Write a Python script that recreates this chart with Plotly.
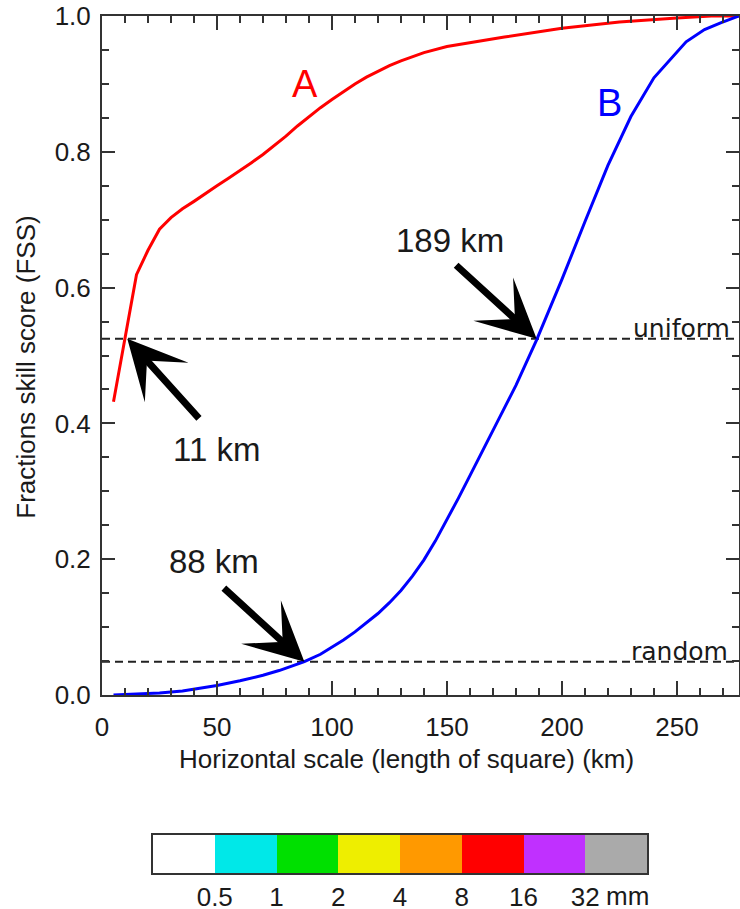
import plotly.graph_objects as go

# ---------------- data ----------------
scale_km_A = [5, 10, 15, 20, 25, 30, 35, 40, 45, 50, 55, 60, 65, 70, 75, 80, 85,
              90, 95, 100, 105, 110, 115, 120, 125, 130, 140, 150, 160, 175, 200,
              225, 250, 265, 277]
fss_A = [0.432, 0.524, 0.619, 0.655, 0.686, 0.703, 0.716, 0.727, 0.739, 0.750,
         0.761, 0.772, 0.784, 0.796, 0.809, 0.823, 0.838, 0.852, 0.865, 0.877,
         0.889, 0.900, 0.910, 0.919, 0.927, 0.934, 0.946, 0.955, 0.961, 0.969,
         0.982, 0.991, 0.997, 1.0, 1.0]

scale_km_B = [5, 15, 25, 35, 45, 50, 60, 70, 77, 88, 95, 100, 105, 110, 115, 120,
              125, 130, 135, 140, 145, 150, 155, 160, 170, 180, 189, 200, 210, 220,
              230, 240, 254, 262, 269, 277]
fss_B = [0.000, 0.001, 0.003, 0.006, 0.011, 0.014, 0.021, 0.029, 0.036, 0.049,
         0.060, 0.070, 0.081, 0.093, 0.106, 0.120, 0.136, 0.154, 0.175, 0.199,
         0.227, 0.258, 0.290, 0.323, 0.389, 0.456, 0.523, 0.612, 0.697, 0.780,
         0.852, 0.909, 0.962, 0.980, 0.990, 1.0]

fss_random = 0.049
fss_uniform = 0.5245
x_max = 277

arrow_points = [(11, 0.5245, "11 km"), (189, 0.5245, "189 km"), (88, 0.049, "88 km")]

cb_labels = ["0.5", "1", "2", "4", "8", "16", "32"]
cb_colors = ["#FFFFFF", "#00E8E8", "#00E000", "#EEEE00", "#FF9900",
             "#FF0000", "#C030FF", "#AAAAAA"]

FONT = "Liberation Sans, Arial, Helvetica, sans-serif"
AX = "#333333"
TXT = "#1a1a1a"

fig = go.Figure()

# reference lines
for val in (fss_uniform, fss_random):
    fig.add_trace(go.Scatter(x=[0, x_max], y=[val] * 2, mode="lines",
                             line=dict(color="#222222", width=2, dash="8px,5px"),
                             hoverinfo="skip", showlegend=False))

fig.add_trace(go.Scatter(x=scale_km_A, y=fss_A, mode="lines",
                         line=dict(color="#FF0000", width=3), showlegend=False))
fig.add_trace(go.Scatter(x=scale_km_B, y=fss_B, mode="lines",
                         line=dict(color="#0000FF", width=3), showlegend=False))

# colour key
fig.add_trace(go.Bar(x=[i + 0.5 for i in range(len(cb_colors))],
                     y=[1] * len(cb_colors), width=1,
                     marker=dict(color=cb_colors, line=dict(width=0)),
                     xaxis="x2", yaxis="y2", showlegend=False, hoverinfo="skip"))

main_dom_bottom = (873 - 695) / 857

fig.update_layout(
    width=740, height=909,
    margin=dict(l=102, r=1, t=16, b=36, autoexpand=False),
    paper_bgcolor="white", plot_bgcolor="white",
    font=dict(family=FONT, size=26, color=TXT),
    bargap=0,
    xaxis=dict(range=[0, x_max], domain=[0, 1], showgrid=False, zeroline=False,
               showline=True, linecolor=AX, linewidth=2, mirror="allticks",
               ticks="inside", ticklen=14, tickwidth=1.5, tickcolor=AX,
               tickvals=[0, 50, 100, 150, 200, 250], automargin=False,
               minor=dict(ticks="inside", ticklen=7, tickwidth=1.5, tickcolor=AX, dtick=10),
               tickfont=dict(size=26, color=TXT), ticklabelstandoff=8),
    yaxis=dict(range=[0, 1], domain=[main_dom_bottom, 1], showgrid=False, zeroline=False,
               showline=True, linecolor=AX, linewidth=2, mirror="allticks",
               ticks="inside", ticklen=13, tickwidth=1.5, tickcolor=AX,
               tickvals=[0, 0.2, 0.4, 0.6, 0.8, 1.0], tickformat=".1f", automargin=False,
               minor=dict(ticks="inside", ticklen=7, tickwidth=1.5, tickcolor=AX, dtick=0.05),
               tickfont=dict(size=26, color=TXT), ticklabelstandoff=4),
    xaxis2=dict(range=[0, 8], domain=[(153 - 102) / 637, (647 - 102) / 637],
                anchor="y2", showgrid=False, zeroline=False, showline=True,
                linecolor=AX, linewidth=2, mirror=True, ticks="", automargin=False,
                tickvals=list(range(1, 8)), ticktext=cb_labels,
                tickfont=dict(size=26, color=TXT), ticklabelstandoff=0),
    yaxis2=dict(range=[0, 1], domain=[0, (873 - 835) / 857], anchor="x2",
                showgrid=False, zeroline=False, showline=True, linecolor=AX,
                linewidth=2, mirror=True, showticklabels=False, ticks="",
                automargin=False),
)

ann = []
# axis titles
ann.append(dict(text="Horizontal scale (length of square) (km)", x=132.2,
                y=(873 - 759) / 857, xref="x", yref="paper", showarrow=False,
                xanchor="center", yanchor="middle", font=dict(size=26, color=TXT)))
ann.append(dict(text="Fractions skill score (FSS)", x=0, xshift=-76, y=0.482,
                xref="paper", yref="y", textangle=-90, showarrow=False,
                xanchor="center", yanchor="middle", font=dict(size=26, color=TXT)))
# curve labels
ann.append(dict(text="A", x=88.3, y=0.900, xref="x", yref="y", showarrow=False,
                font=dict(size=38, color="#FF0000")))
ann.append(dict(text="B", x=220.9, y=0.872, xref="x", yref="y", showarrow=False,
                font=dict(size=38, color="#0000FF")))
# reference line labels
ann.append(dict(text="uniform", x=273.5, y=fss_uniform, yshift=-5, xref="x", yref="y",
                xanchor="right", yanchor="bottom", showarrow=False, borderpad=0,
                font=dict(family="DejaVu Sans", size=25, color=TXT)))
ann.append(dict(text="random", x=272.5, y=fss_random, yshift=-5, xref="x", yref="y",
                xanchor="right", yanchor="bottom", showarrow=False, borderpad=0,
                font=dict(family="DejaVu Sans", size=25, color=TXT)))
# arrows
offsets = {"11 km": (73, 81), "189 km": (-82, -75), "88 km": (-82, -75)}
label_pos = {"11 km": (49.6, 0.361), "189 km": (151.3, 0.669), "88 km": (48.7, 0.196)}
for xk, yv, lab in arrow_points:
    ax_, ay_ = offsets[lab]
    ann.append(dict(text="", x=xk, y=yv, xref="x", yref="y", ax=ax_, ay=ay_,
                    showarrow=True, arrowhead=3, arrowwidth=7, arrowsize=1.4,
                    arrowcolor="black", standoff=0))
    lx, ly = label_pos[lab]
    ann.append(dict(text=lab, x=lx, y=ly, xref="x", yref="y", showarrow=False,
                    font=dict(size=33, color=TXT)))
# colour key unit
ann.append(dict(text="mm", x=7.0, xshift=19, y=0, yshift=-23, xref="x2", yref="y2",
                xanchor="left", yanchor="middle", showarrow=False,
                font=dict(size=26, color=TXT)))
fig.update_layout(annotations=ann)

fig.write_html("out.html")
